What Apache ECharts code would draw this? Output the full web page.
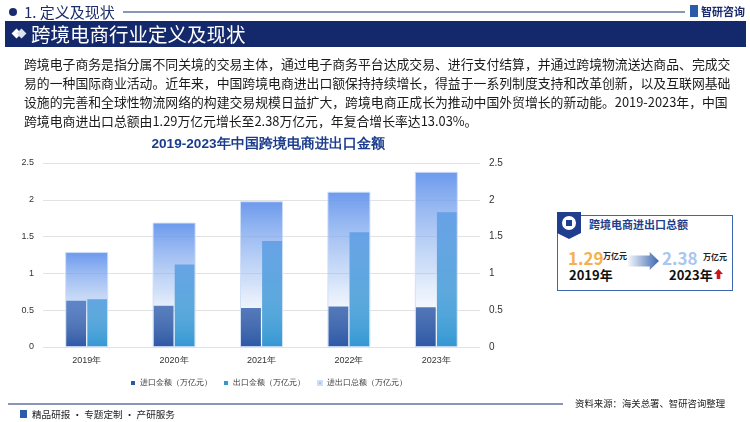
<!DOCTYPE html>
<html>
<head>
<meta charset="utf-8">
<script src="https://cdn.jsdelivr.net/npm/echarts@6/dist/echarts.min.js"></script>
<style>
  html, body { margin: 0; padding: 0; background: #fff; }
  body { width: 750px; height: 422px; position: relative; overflow: hidden;
         font-family: "Noto Sans CJK SC", "Noto Sans", sans-serif; color: #222; }
  .abs { position: absolute; white-space: nowrap; }
  #chart { position: absolute; left: 0; top: 0; width: 750px; height: 422px; }
  .para { left: 24px; font-size: 12.85px; line-height: 18px; color: #1a1a1a; }
  .card { left: 557px; top: 215px; width: 176px; height: 76px; border: 1px solid #3c66b0; box-sizing: border-box; background: #fff; }
</style>
</head>
<body>
<div id="chart"></div>

<!-- 页眉 -->
<div class="abs" style="left:9px;top:8px;width:8px;height:8px;border-radius:50%;background:#1b2b6b;"></div>
<div class="abs" style="left:24px;top:1px;font-size:15px;color:#1b2b6b;">1. 定义及现状</div>
<div class="abs" style="left:123px;top:11px;width:562px;height:2px;background:#8a96b6;"></div>
<div class="abs" style="left:690px;top:5px;width:8px;height:12px;background:#2b5ca8;"></div>
<div class="abs" style="left:701px;top:3px;font-size:11px;font-weight:bold;color:#1b2b6b;">智研咨询</div>

<div class="abs" style="left:5px;top:21px;width:741px;height:26px;background:#13296b;"></div>
<div class="abs" style="left:13px;top:30px;width:7px;height:7px;background:#fff;transform:rotate(45deg);"></div>
<div class="abs" style="left:18px;top:30px;width:7px;height:7px;background:#dfe3ee;transform:rotate(45deg);"></div>
<div class="abs" style="left:31px;top:19px;font-size:19.5px;color:#fff;">跨境电商行业定义及现状</div>

<!-- 正文 -->
<div class="abs para" style="top:55px;">跨境电子商务是指分属不同关境的交易主体，通过电子商务平台达成交易、进行支付结算，并通过跨境物流送达商品、完成交</div>
<div class="abs para" style="top:74px;">易的一种国际商业活动。近年来，中国跨境电商进出口额保持持续增长，得益于一系列制度支持和改革创新，以及互联网基础</div>
<div class="abs para" style="top:93px;">设施的完善和全球性物流网络的构建交易规模日益扩大，跨境电商正成长为推动中国外贸增长的新动能。2019-2023年，中国</div>
<div class="abs para" style="top:112px;">跨境电商进出口总额由1.29万亿元增长至2.38万亿元，年复合增长率达13.03%。</div>

<!-- 右侧卡片 -->
<div class="abs card"></div>
<div class="abs" style="left:557px;top:212px;width:24px;height:27px;background:#1f3f8e;clip-path:polygon(0 0,100% 0,100% 78%,50% 100%,0 78%);"></div>
<div class="abs" style="left:562px;top:216px;width:14px;height:14px;border-radius:50%;background:#fff;"></div>
<div class="abs" style="left:566px;top:220px;width:6px;height:6px;background:#1f3f8e;"></div>
<div class="abs" style="left:589px;top:216px;font-size:11px;font-weight:bold;color:#1f3f8e;">跨境电商进出口总额</div>
<div class="abs" style="left:568px;top:245px;font-size:17px;font-weight:bold;color:#f7b04f;">1.29</div>
<div class="abs" style="left:603px;top:250px;font-size:8px;font-weight:bold;color:#222;">万亿元</div>
<div class="abs" style="left:569px;top:265px;font-size:13px;font-weight:bold;color:#111;">2019年</div>
<div class="abs" style="left:628px;top:252px;width:31px;height:18px;background:linear-gradient(90deg,rgba(200,215,240,0.2),#3d66b0);clip-path:polygon(0 20%,70% 20%,70% 0,100% 50%,70% 100%,70% 80%,0 80%);"></div>
<div class="abs" style="left:662px;top:245px;font-size:17px;font-weight:bold;color:#a8c6ee;">2.38</div>
<div class="abs" style="left:703px;top:251px;font-size:8px;font-weight:bold;color:#222;">万亿元</div>
<div class="abs" style="left:669px;top:265px;font-size:13px;font-weight:bold;color:#111;">2023年</div>
<div class="abs" style="left:714px;top:269px;width:9px;height:10px;background:#d0141c;clip-path:polygon(50% 0,100% 50%,70% 50%,70% 100%,30% 100%,30% 50%,0 50%);"></div>

<!-- 页脚 -->
<div class="abs" style="left:8px;top:403px;width:555px;height:2px;background:#8a96b6;"></div>
<div class="abs" style="left:575px;top:396px;font-size:9.4px;color:#222;">资料来源：海关总署、智研咨询整理</div>
<div class="abs" style="left:20px;top:410px;width:7px;height:8px;background:#2b5ca8;"></div>
<div class="abs" style="left:32px;top:407px;font-size:9.6px;color:#222;">精品研报 · 专题定制 · 产研服务</div>

<script>
// 数据
var years = ['2019年', '2020年', '2021年', '2022年', '2023年'];
var importValues = [0.63, 0.56, 0.53, 0.55, 0.54];
var exportValues = [0.65, 1.12, 1.44, 1.56, 1.83];
var totalValues = [1.29, 1.69, 1.98, 2.11, 2.38];
var seriesNames = ['进口金额（万亿元）', '出口金额（万亿元）', '进出口总额（万亿元）'];

var chart = echarts.init(document.getElementById('chart'));
var labelStyle = { fontSize: 9, color: '#333' };
var option = {
  animation: false,
  title: {
    text: '2019-2023年中国跨境电商进出口金额',
    left: 263, top: 132, textAlign: 'center',
    textStyle: { fontSize: 13.6, fontWeight: 'bold', color: '#1b3c8c' }
  },
  legend: {
    left: 126, top: 374,
    itemWidth: 4, itemHeight: 4, itemGap: 12, icon: 'rect',
    textStyle: { fontSize: 8.2, color: '#333' },
    data: [
      { name: seriesNames[0], itemStyle: { color: '#2d58a5' } },
      { name: seriesNames[1], itemStyle: { color: '#3397d3' } },
      { name: seriesNames[2], itemStyle: { color: '#a9c4f2' } }
    ]
  },
  grid: { left: 43, right: 270, top: 163, bottom: 75 },
  xAxis: [
    {
      type: 'category', data: years,
      axisLine: { show: false }, axisTick: { show: false },
      axisLabel: Object.assign({ margin: 9 }, labelStyle)
    },
    { type: 'category', data: years, show: false }
  ],
  yAxis: [
    {
      type: 'value', min: 0, max: 2.5, interval: 0.5,
      axisLine: { show: false }, axisTick: { show: false },
      axisLabel: Object.assign({ margin: 9 }, labelStyle),
      splitLine: { lineStyle: { color: '#e2e2e2', width: 1 } }
    },
    {
      type: 'value', min: 0, max: 2.5, interval: 0.5, position: 'right',
      axisLine: { show: false }, axisTick: { show: false },
      axisLabel: { margin: 9, fontSize: 10, color: '#333' },
      splitLine: { show: false }
    }
  ],
  series: [
    {
      name: seriesNames[0], type: 'bar', xAxisIndex: 0, yAxisIndex: 0,
      data: importValues, barWidth: 20, barGap: '6%', z: 2,
      itemStyle: { color: '#2d58a5' }
    },
    {
      name: seriesNames[1], type: 'bar', xAxisIndex: 0, yAxisIndex: 0,
      data: exportValues, barWidth: 20, z: 2,
      itemStyle: { color: '#3397d3' }
    },
    {
      name: seriesNames[2], type: 'bar', xAxisIndex: 1, yAxisIndex: 0,
      data: totalValues, barWidth: 43, z: 3,
      itemStyle: {
        color: new echarts.graphic.LinearGradient(0, 0, 0, 1, [
          { offset: 0, color: 'rgba(100,148,236,0.95)' },
          { offset: 0.55, color: 'rgba(150,185,240,0.45)' },
          { offset: 1, color: 'rgba(255,255,255,0)' }
        ]),
        borderColor: 'rgba(205,222,248,0.9)', borderWidth: 1
      }
    }
  ]
};
chart.setOption(option);
</script>
</body>
</html>
